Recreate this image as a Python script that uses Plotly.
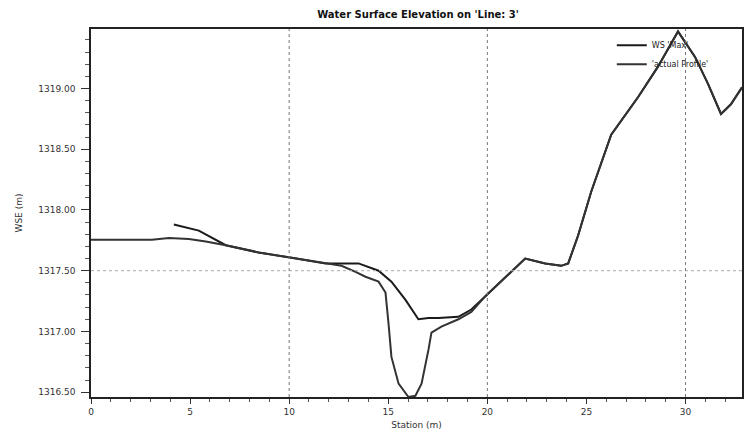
import plotly.graph_objects as go

# Water surface (WS 'Max') profile
ws_station = [4.18, 5.44, 6.80, 8.46, 9.97, 11.84, 12.64, 13.50, 14.51, 15.16, 15.87,
              16.52, 17.03, 17.53, 18.54, 19.19, 19.90, 20.55, 21.91, 22.92, 23.73,
              24.08, 24.58, 25.24, 26.25, 27.61, 28.61, 29.62, 30.48, 31.13, 31.79,
              32.29, 32.85]
ws_elev = [1317.88, 1317.83, 1317.71, 1317.65, 1317.61, 1317.56, 1317.56, 1317.56,
           1317.50, 1317.41, 1317.26, 1317.10, 1317.11, 1317.11, 1317.12, 1317.18,
           1317.29, 1317.39, 1317.60, 1317.56, 1317.54, 1317.56, 1317.79, 1318.15,
           1318.62, 1318.93, 1319.18, 1319.47, 1319.26, 1319.04, 1318.79, 1318.87,
           1319.01]

# Ground ('actual Profile')
gr_station = [0.0, 3.07, 3.93, 4.94, 5.79, 6.80, 8.46, 9.97, 11.84, 12.64, 13.35,
              13.85, 14.51, 14.86, 15.01, 15.16, 15.52, 16.02, 16.37, 16.68, 17.03,
              17.18, 17.68, 18.54, 19.19, 19.90, 20.55, 21.91, 22.92, 23.73, 24.08,
              24.58, 25.24, 26.25, 27.61, 28.61, 29.62, 30.48, 31.13, 31.79, 32.29,
              32.85]
gr_elev = [1317.755, 1317.755, 1317.77, 1317.76, 1317.74, 1317.71, 1317.65, 1317.61,
           1317.56, 1317.54, 1317.49, 1317.45, 1317.41, 1317.32, 1317.07, 1316.79,
           1316.57, 1316.46, 1316.47, 1316.57, 1316.85, 1316.99, 1317.04, 1317.10,
           1317.16, 1317.29, 1317.39, 1317.60, 1317.56, 1317.54, 1317.56, 1317.79,
           1318.15, 1318.62, 1318.93, 1319.18, 1319.47, 1319.26, 1319.04, 1318.79,
           1318.87, 1319.01]

series_names = ["WS 'Max'", "'actual Profile'"]
title_text = "Water Surface Elevation on 'Line: 3'"
x_title = "Station (m)"
y_title = "WSE (m)"

fig = go.Figure()
fig.add_trace(go.Scatter(x=ws_station, y=ws_elev, mode="lines", name=series_names[0],
                         line=dict(color="#1a1a1a", width=2)))
fig.add_trace(go.Scatter(x=gr_station, y=gr_elev, mode="lines", name=series_names[1],
                         line=dict(color="#333333", width=2)))

# faint dotted reference line at 1317.5
fig.add_hline(y=1317.5, line=dict(color="#aaaaaa", width=1, dash="dot"))

tick_font = dict(family="DejaVu Sans", size=9, color="#333333")

fig.update_layout(
    width=744, height=440,
    margin=dict(l=91, r=0, t=29, b=43),
    paper_bgcolor="white", plot_bgcolor="white",
    title=dict(text="<b>" + title_text + "</b>", x=418 / 744, xanchor="center",
               y=1 - 14 / 440, yanchor="middle",
               font=dict(family="DejaVu Sans", size=10, color="#111111")),
    legend=dict(x=0.80, y=0.995, xanchor="left", yanchor="top",
                bgcolor="rgba(0,0,0,0)", font=dict(family="DejaVu Sans", size=8, color="#222222"),
                itemwidth=30, tracegroupgap=0),
    showlegend=True,
)

fig.update_xaxes(
    range=[0, 32.85], dtick=5, tick0=0,
    ticks="outside", ticklen=5, tickcolor="#333333",
    minor=dict(dtick=1, ticks="outside", ticklen=3, tickcolor="#555555", showgrid=False),
    showline=True, linecolor="#222222", linewidth=1.5, mirror=True,
    showgrid=False, tickfont=tick_font, zeroline=False,
    title=dict(text=x_title, font=dict(family="DejaVu Sans", size=9, color="#333333"), standoff=6),
)
fig.update_yaxes(
    range=[1316.46, 1319.49], dtick=0.5, tick0=1316.5, tickformat=".2f",
    ticks="outside", ticklen=8, tickcolor="#333333",
    minor=dict(dtick=0.1, ticks="outside", ticklen=4, tickcolor="#555555", showgrid=False),
    showline=True, linecolor="#222222", linewidth=1.5, mirror=True,
    showgrid=False, tickfont=tick_font, zeroline=False, ticklabelstandoff=4,
    title=dict(text=y_title, font=dict(family="DejaVu Sans", size=9, color="#333333"), standoff=14),
)
# dotted gridlines only every 10 stations
for xv in [10, 20, 30]:
    fig.add_vline(x=xv, line=dict(color="#777777", width=1, dash="dot"))

fig.write_html("out.html")
